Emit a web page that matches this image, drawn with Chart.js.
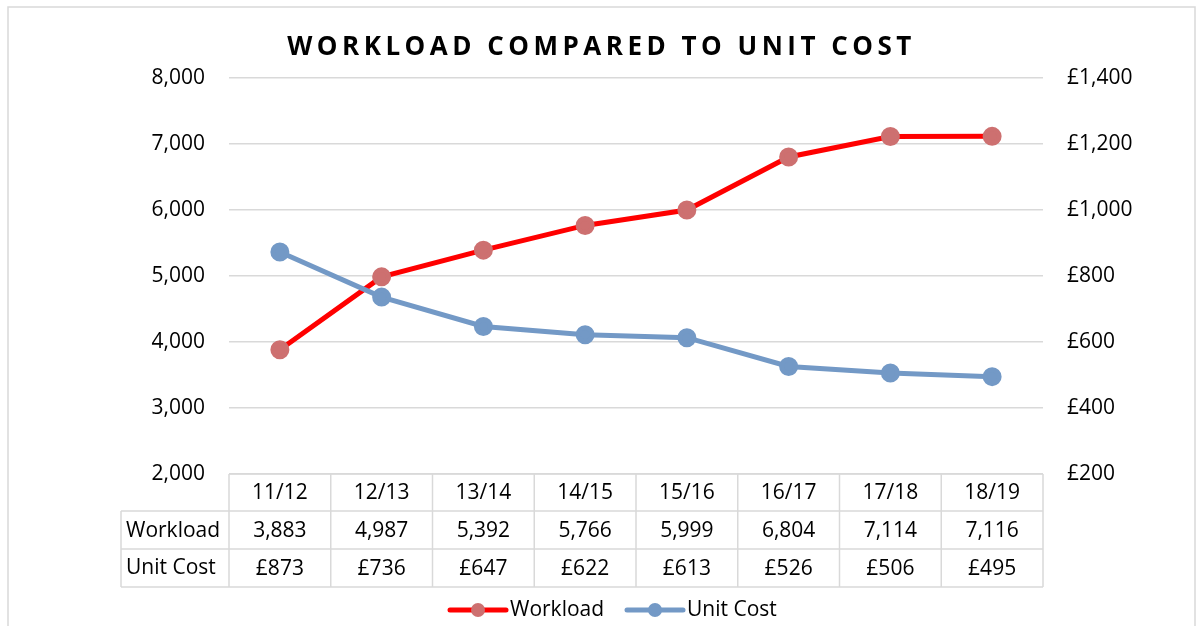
<!DOCTYPE html>
<html>
<head>
<meta charset="utf-8">
<style>
  html, body { margin: 0; padding: 0; background: #fff; }
  #wrap { width: 1197px; height: 626px; }
</style>
<script src="https://cdn.jsdelivr.net/npm/chart.js@4/dist/chart.umd.min.js"></script>
</head>
<body>
<div id="wrap"><canvas id="chart" width="1197" height="626"></canvas></div>
<script>
const years = ["11/12", "12/13", "13/14", "14/15", "15/16", "16/17", "17/18", "18/19"];
const workload = [3883, 4987, 5392, 5766, 5999, 6804, 7114, 7116];
const unitCost = [873, 736, 647, 622, 613, 526, 506, 495];
const titleText = "WORKLOAD COMPARED TO UNIT COST";

const FONT = "'Open Sans', sans-serif";
const GRID = "#d9d9d9";
const RED = "#ff0000";
const RED_PT = "#cd7070";
const BLUE = "#7399c6";

const fmtNum = (v) => v.toLocaleString("en-GB");
const fmtGbp = (v) => "£" + v.toLocaleString("en-GB");

// outer frame, title, data table and legend
const extras = {
    id: "extras",
    beforeDraw(chart) {
        const c = chart.ctx;
        c.save();
        c.fillStyle = "#fff";
        c.fillRect(0, 0, chart.width, chart.height);
        c.strokeStyle = GRID;
        c.lineWidth = 1.5;
        c.strokeRect(8, 7, chart.width - 10, chart.height + 10);
        c.restore();
    },
    afterDraw(chart) {
        const c = chart.ctx;
        const x = chart.scales.x;
        const area = chart.chartArea;
        c.save();

        // title
        c.font = "bold 26px " + FONT;
        c.letterSpacing = "4.5px";
        c.fillStyle = "#000";
        c.textAlign = "center";
        c.textBaseline = "middle";
        c.fillText(titleText, chart.width / 2 + 3, 48);
        c.letterSpacing = "0px";

        // data table
        const half = (x.getPixelForValue(1) - x.getPixelForValue(0)) / 2;
        const rowTop = [area.bottom, area.bottom + 37, area.bottom + 75, area.bottom + 113];
        const headLeft = 121;
        c.strokeStyle = GRID;
        c.lineWidth = 1.5;
        c.beginPath();
        c.moveTo(area.left, rowTop[0]); c.lineTo(area.right, rowTop[0]);
        for (let r = 1; r < 4; r++) {
            c.moveTo(headLeft, rowTop[r]); c.lineTo(area.right, rowTop[r]);
        }
        c.moveTo(headLeft, rowTop[1]); c.lineTo(headLeft, rowTop[3]);
        for (let i = 0; i <= years.length; i++) {
            const px = i < years.length ? x.getPixelForValue(i) - half : x.getPixelForValue(years.length - 1) + half;
            c.moveTo(px, rowTop[0]); c.lineTo(px, rowTop[3]);
        }
        c.stroke();

        c.font = "21px " + FONT;
        c.fillStyle = "#000";
        c.textBaseline = "middle";
        c.textAlign = "center";
        years.forEach((y, i) => {
            const px = x.getPixelForValue(i);
            c.fillText(y, px, (rowTop[0] + rowTop[1]) / 2 + 1);
            c.fillText(fmtNum(workload[i]), px, (rowTop[1] + rowTop[2]) / 2 + 1);
            c.fillText(fmtGbp(unitCost[i]), px, (rowTop[2] + rowTop[3]) / 2 + 1);
        });
        c.textAlign = "left";
        c.fillText(chart.data.datasets[0].label, headLeft + 5, (rowTop[1] + rowTop[2]) / 2 + 1);
        c.fillText(chart.data.datasets[1].label, headLeft + 5, (rowTop[2] + rowTop[3]) / 2);

        // legend
        const ly = 610;
        const items = [
            { ds: chart.data.datasets[0], x: 450 },
            { ds: chart.data.datasets[1], x: 627 }
        ];
        items.forEach(({ ds, x: lx }) => {
            c.strokeStyle = ds.borderColor;
            c.lineWidth = 5;
            c.lineCap = "round";
            c.beginPath();
            c.moveTo(lx, ly); c.lineTo(lx + 56, ly);
            c.stroke();
            c.fillStyle = ds.pointBackgroundColor;
            c.beginPath();
            c.arc(lx + 28, ly, 7, 0, Math.PI * 2);
            c.fill();
            c.fillStyle = "#000";
            c.textAlign = "left";
            c.fillText(ds.label, lx + 60, ly);
        });
        c.restore();
    }
};

new Chart(document.getElementById("chart"), {
    type: "line",
    data: {
        labels: years,
        datasets: [
            {
                label: "Workload",
                data: workload,
                yAxisID: "y",
                borderColor: RED,
                borderWidth: 5,
                pointBackgroundColor: RED_PT,
                pointBorderColor: RED_PT,
                pointRadius: 7,
                tension: 0,
                order: 2
            },
            {
                label: "Unit Cost",
                data: unitCost,
                yAxisID: "y1",
                borderColor: BLUE,
                borderWidth: 5,
                pointBackgroundColor: BLUE,
                pointBorderColor: BLUE,
                pointRadius: 7,
                tension: 0,
                order: 1
            }
        ]
    },
    options: {
        responsive: false,
        animation: false,
        events: [],
        layout: { padding: { top: 78, bottom: 152, left: 0, right: 0 } },
        plugins: {
            legend: { display: false },
            title: { display: false },
            tooltip: { enabled: false }
        },
        scales: {
            x: {
                type: "category",
                display: false,
                offset: true
            },
            y: {
                position: "left",
                min: 2000,
                max: 8000,
                afterFit: (s) => { s.width = 229; },
                ticks: {
                    stepSize: 1000,
                    padding: 24,
                    color: "#000",
                    font: { family: FONT, size: 21 },
                    callback: (v) => fmtNum(v)
                },
                grid: { color: GRID, lineWidth: 1.5, drawTicks: false },
                border: { display: false }
            },
            y1: {
                position: "right",
                min: 200,
                max: 1400,
                afterFit: (s) => { s.width = 154; },
                ticks: {
                    stepSize: 200,
                    padding: 24,
                    color: "#000",
                    font: { family: FONT, size: 21 },
                    callback: (v) => fmtGbp(v)
                },
                grid: { display: false, drawTicks: false },
                border: { display: false }
            }
        }
    },
    plugins: [extras]
});
</script>
</body>
</html>
